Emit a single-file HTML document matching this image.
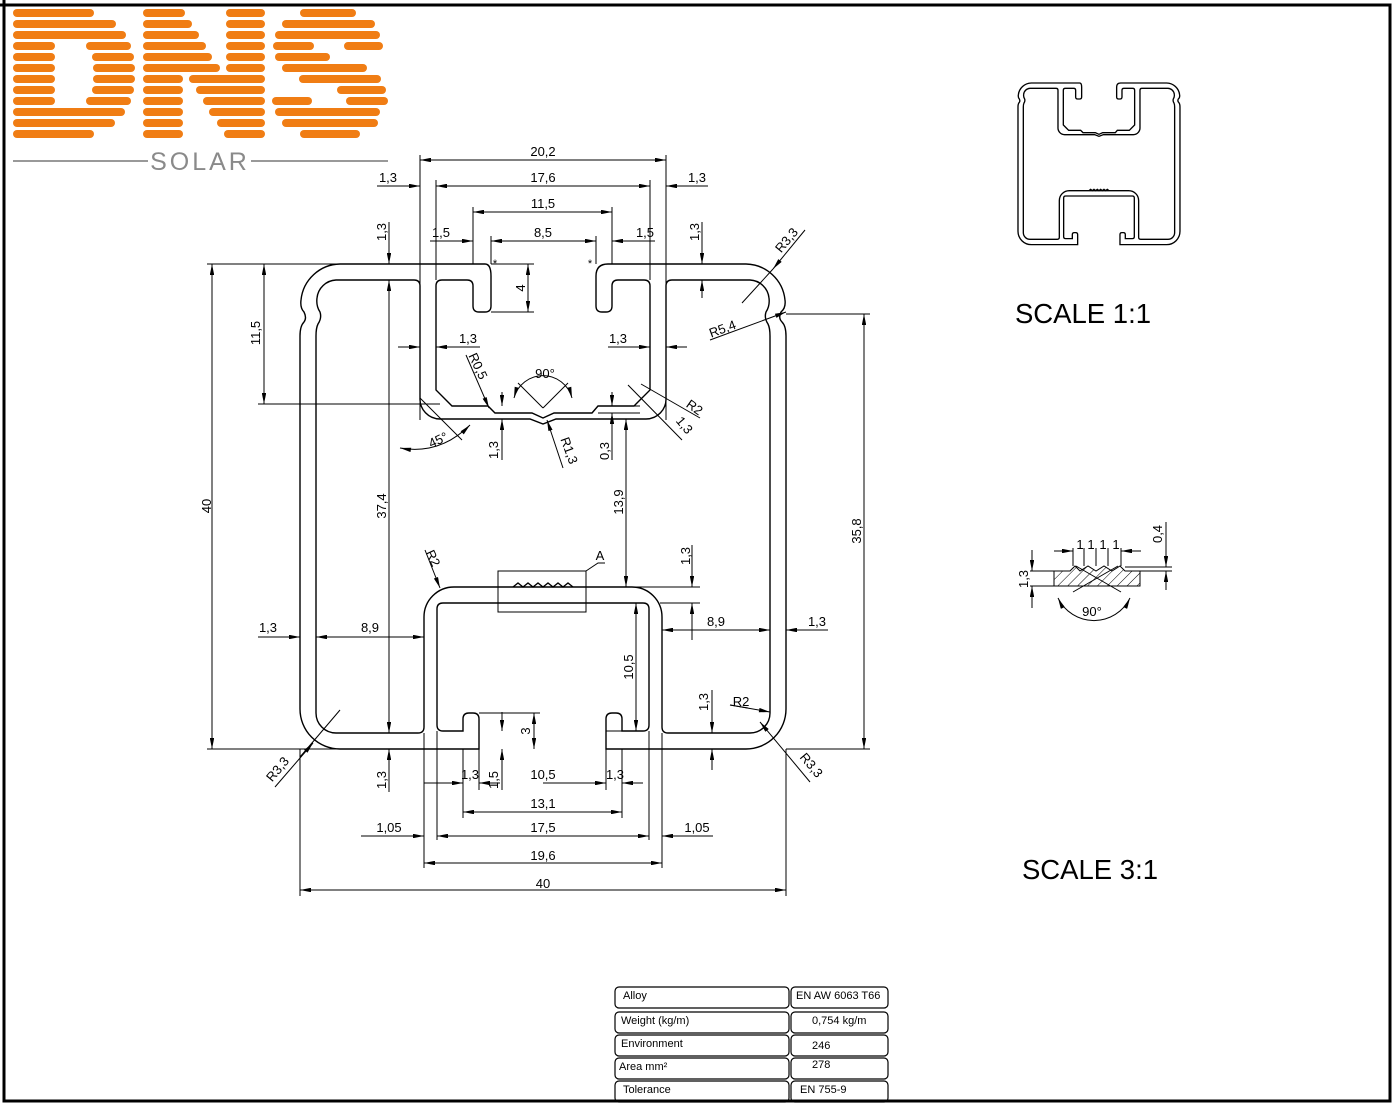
<!DOCTYPE html>
<html><head><meta charset="utf-8"><style>
html,body{margin:0;padding:0;background:#fff;}
svg{display:block;font-family:"Liberation Sans",sans-serif;}
.d{stroke:#000;stroke-width:1;fill:none;}
.p{stroke:#000;stroke-width:1.4;fill:none;}
.t{font-size:13px;fill:#000;text-anchor:middle;}
.o{stroke:#f07d14;stroke-width:8;stroke-linecap:round;}
</style></head><body>
<svg width="1394" height="1103" viewBox="0 0 1394 1103">
<defs>
<marker id="a" viewBox="0 0 10 4" refX="10" refY="2" markerWidth="12" markerHeight="4.4" markerUnits="userSpaceOnUse" orient="auto-start-reverse"><path d="M0,0 L10,2 L0,4z" fill="#000"/></marker>
<pattern id="h" width="7" height="7" patternUnits="userSpaceOnUse" patternTransform="rotate(45)"><line x1="0" y1="0" x2="0" y2="7" stroke="#000" stroke-width="1"/></pattern>
<g id="prof">
<path d="M491,276 L491,306 Q491,312 485,312 L479,312 Q473,312 473,306 L473,286 Q473,280 467,280 L442,280 Q436,280 436,286 L436,390 L452,406 L488,406 L495,413 L532,413 L543,418 L554,413 L592,413 L598,406 L634,406 L650,390 L650,286 Q650,280 644,280 L618,280 Q612,280 612,286 L612,306 Q612,312 606,312 L602,312 Q596,312 596,306 L596,276 Q596,264 608,264 L746,264 A40,40 0 0 1 785,300 Q786,308 781,312 Q778,318 782,322 Q786,326 786,336 L786,709 A40,40 0 0 1 746,749 L606,749 L606,719 Q606,713 612,713 L616,713 Q622,713 622,719 L622,731 L643,731 Q649,731 649,725 L649,609 Q649,603 643,603 L443,603 Q437,603 437,609 L437,725 Q437,731 443,731 L463,731 L463,719 Q463,713 469,713 L473,713 Q479,713 479,719 L479,749 L340,749 A40,40 0 0 1 300,709 L300,336 Q300,326 304,322 Q307,318 304,312 Q300,308 301,300 A40,40 0 0 1 340,264 L485,264 Q491,264 491,276 Z"/>
<path d="M336,280 L414,280 Q420,280 420,286 L420,398 A20,20 0 0 0 440,419 L530,419 L543,424 L556,419 L646,419 A20,20 0 0 0 666,398 L666,286 Q666,280 672,280 L750,280 A20,20 0 0 1 769,298 Q770,306 766,312 Q764,318 768,324 Q770,328 770,336 L770,713 A20,20 0 0 1 750,733 L668,733 Q662,733 662,727 L662,617 A30,30 0 0 0 632,587 L454,587 A30,30 0 0 0 424,617 L424,727 Q424,733 418,733 L336,733 A20,20 0 0 1 316,713 L316,336 Q316,328 318,324 Q322,318 320,312 Q316,306 317,298 A20,20 0 0 1 336,280 Z"/>
<path d="M513,587 l5,-4 5,4 5,-4 5,4 5,-4 5,4 5,-4 5,4 5,-4 5,4 5,-4 5,4"/>
</g>
</defs>

<rect x="4" y="5" width="1386" height="1096" fill="none" stroke="#000" stroke-width="3"/>

<rect x="0" y="0" width="400" height="142" fill="#fff"/>
<line x1="4" y1="0" x2="4" y2="142" stroke="#000" stroke-width="3"/>
<line x1="0" y1="5" x2="400" y2="5" stroke="#000" stroke-width="3"/>
<g class="o">
<line x1="17" y1="13" x2="90" y2="13"/><line x1="17" y1="24" x2="112" y2="24"/><line x1="17" y1="35" x2="122" y2="35"/>
<line x1="17" y1="46" x2="51" y2="46"/><line x1="90" y1="46" x2="127" y2="46"/>
<line x1="17" y1="57" x2="51" y2="57"/><line x1="96" y1="57" x2="130" y2="57"/>
<line x1="17" y1="68" x2="51" y2="68"/><line x1="97" y1="68" x2="131" y2="68"/>
<line x1="17" y1="79" x2="51" y2="79"/><line x1="97" y1="79" x2="131" y2="79"/>
<line x1="17" y1="90" x2="51" y2="90"/><line x1="96" y1="90" x2="130" y2="90"/>
<line x1="17" y1="101" x2="51" y2="101"/><line x1="90" y1="101" x2="127" y2="101"/>
<line x1="17" y1="112" x2="121" y2="112"/><line x1="17" y1="123" x2="111" y2="123"/><line x1="17" y1="134" x2="90" y2="134"/>
<line x1="147" y1="13" x2="181" y2="13"/><line x1="147" y1="24" x2="188" y2="24"/><line x1="147" y1="35" x2="195" y2="35"/>
<line x1="147" y1="46" x2="202" y2="46"/><line x1="147" y1="57" x2="208" y2="57"/><line x1="147" y1="68" x2="216" y2="68"/>
<line x1="147" y1="79" x2="179" y2="79"/><line x1="193" y1="79" x2="261" y2="79"/>
<line x1="147" y1="90" x2="179" y2="90"/><line x1="200" y1="90" x2="261" y2="90"/>
<line x1="147" y1="101" x2="179" y2="101"/><line x1="207" y1="101" x2="261" y2="101"/>
<line x1="147" y1="112" x2="179" y2="112"/><line x1="213" y1="112" x2="261" y2="112"/>
<line x1="147" y1="123" x2="179" y2="123"/><line x1="221" y1="123" x2="261" y2="123"/>
<line x1="147" y1="134" x2="179" y2="134"/><line x1="228" y1="134" x2="261" y2="134"/>
<line x1="230" y1="13" x2="261" y2="13"/><line x1="230" y1="24" x2="261" y2="24"/><line x1="230" y1="35" x2="261" y2="35"/>
<line x1="230" y1="46" x2="261" y2="46"/><line x1="230" y1="57" x2="261" y2="57"/><line x1="230" y1="68" x2="261" y2="68"/>
<line x1="304" y1="13" x2="352" y2="13"/><line x1="286" y1="24" x2="371" y2="24"/><line x1="279" y1="35" x2="376" y2="35"/>
<line x1="277" y1="46" x2="310" y2="46"/><line x1="348" y1="46" x2="379" y2="46"/>
<line x1="279" y1="57" x2="326" y2="57"/><line x1="286" y1="68" x2="363" y2="68"/><line x1="303" y1="79" x2="377" y2="79"/>
<line x1="341" y1="90" x2="382" y2="90"/><line x1="276" y1="101" x2="308" y2="101"/><line x1="350" y1="101" x2="384" y2="101"/>
<line x1="279" y1="112" x2="376" y2="112"/><line x1="286" y1="123" x2="374" y2="123"/><line x1="304" y1="134" x2="356" y2="134"/>
</g>
<line x1="13" y1="161" x2="148" y2="161" stroke="#999" stroke-width="2"/>
<line x1="251" y1="161" x2="388" y2="161" stroke="#999" stroke-width="2"/>
<text x="200" y="170" font-size="25" fill="#8a8a8a" text-anchor="middle" letter-spacing="3">SOLAR</text>

<use href="#prof" class="p"/>
<rect x="498" y="571" width="88" height="41" class="d"/>
<path class="d" d="M586,571 L598,563 L605,563"/>
<text class="t" x="600" y="560">A</text>

<g class="d">
<line x1="420" y1="155" x2="420" y2="420"/><line x1="666" y1="155" x2="666" y2="420"/>
<line x1="436" y1="180" x2="436" y2="280"/><line x1="650" y1="180" x2="650" y2="280"/>
<line x1="473" y1="207" x2="473" y2="264"/><line x1="612" y1="207" x2="612" y2="264"/>
<line x1="491" y1="236" x2="491" y2="264"/><line x1="596" y1="236" x2="596" y2="264"/>
<line x1="207" y1="264" x2="340" y2="264"/><line x1="207" y1="749" x2="340" y2="749"/>
<line x1="258" y1="404" x2="440" y2="404"/>
<line x1="491" y1="264" x2="534" y2="264"/><line x1="491" y1="312" x2="534" y2="312"/>
<line x1="786" y1="314" x2="870" y2="314"/><line x1="786" y1="749" x2="870" y2="749"/>
<line x1="586" y1="587" x2="700" y2="587"/><line x1="660" y1="603" x2="700" y2="603"/>
<line x1="479" y1="713" x2="540" y2="713"/><line x1="606" y1="731" x2="640" y2="731"/>
<line x1="300" y1="749" x2="300" y2="896"/><line x1="786" y1="749" x2="786" y2="896"/>
<line x1="424" y1="733" x2="424" y2="868"/><line x1="662" y1="733" x2="662" y2="868"/>
<line x1="437" y1="731" x2="437" y2="840"/><line x1="649" y1="731" x2="649" y2="840"/>
<line x1="463" y1="749" x2="463" y2="818"/><line x1="622" y1="749" x2="622" y2="818"/>
<line x1="479" y1="749" x2="479" y2="790"/><line x1="606" y1="749" x2="606" y2="790"/>
<line x1="598" y1="406" x2="640" y2="406"/><line x1="598" y1="413" x2="640" y2="413"/>
</g>

<g class="d" marker-end="url(#a)">
<line x1="543" y1="160" x2="420" y2="160"/><line x1="543" y1="160" x2="666" y2="160"/>
<line x1="543" y1="186" x2="436" y2="186"/><line x1="543" y1="186" x2="650" y2="186"/>
<line x1="377" y1="186" x2="420" y2="186"/><line x1="708" y1="186" x2="666" y2="186"/>
<line x1="543" y1="212" x2="473" y2="212"/><line x1="543" y1="212" x2="612" y2="212"/>
<line x1="543" y1="241" x2="491" y2="241"/><line x1="543" y1="241" x2="596" y2="241"/>
<line x1="430" y1="241" x2="473" y2="241"/><line x1="655" y1="241" x2="612" y2="241"/>
<line x1="389" y1="222" x2="389" y2="264"/><line x1="389" y1="500" x2="389" y2="280"/><line x1="389" y1="500" x2="389" y2="733"/>
<line x1="389" y1="792" x2="389" y2="749"/>
<line x1="702" y1="222" x2="702" y2="264"/><line x1="702" y1="298" x2="702" y2="280"/>
<line x1="528" y1="288" x2="528" y2="264"/><line x1="528" y1="288" x2="528" y2="312"/>
<line x1="264" y1="334" x2="264" y2="264"/><line x1="264" y1="334" x2="264" y2="404"/>
<line x1="212" y1="506" x2="212" y2="264"/><line x1="212" y1="506" x2="212" y2="749"/>
<line x1="398" y1="347" x2="420" y2="347"/><line x1="480" y1="347" x2="436" y2="347"/>
<line x1="608" y1="347" x2="650" y2="347"/><line x1="687" y1="347" x2="666" y2="347"/>
<line x1="466" y1="355" x2="489" y2="408"/>
<line x1="563" y1="468" x2="547" y2="420"/>
<line x1="502" y1="392" x2="502" y2="406"/><line x1="502" y1="460" x2="502" y2="419"/>
<line x1="612" y1="392" x2="612" y2="406"/><line x1="612" y1="460" x2="612" y2="413"/>
<line x1="626" y1="500" x2="626" y2="419"/><line x1="626" y1="500" x2="626" y2="587"/>
<line x1="805" y1="230" x2="773" y2="269"/>
<line x1="710" y1="340" x2="786" y2="312"/>
<line x1="864" y1="530" x2="864" y2="314"/><line x1="864" y1="530" x2="864" y2="749"/>
<line x1="425" y1="550" x2="440" y2="588"/>
<line x1="692" y1="545" x2="692" y2="587"/><line x1="692" y1="640" x2="692" y2="603"/>
<line x1="370" y1="637" x2="316" y2="637"/><line x1="370" y1="637" x2="424" y2="637"/>
<line x1="258" y1="637" x2="300" y2="637"/>
<line x1="716" y1="630" x2="662" y2="630"/><line x1="716" y1="630" x2="770" y2="630"/>
<line x1="828" y1="630" x2="786" y2="630"/>
<line x1="636" y1="667" x2="636" y2="603"/><line x1="636" y1="667" x2="636" y2="731"/>
<line x1="534" y1="731" x2="534" y2="713"/><line x1="534" y1="731" x2="534" y2="749"/>
<line x1="502" y1="712" x2="502" y2="731"/><line x1="502" y1="790" x2="502" y2="749"/>
<line x1="712" y1="690" x2="712" y2="733"/><line x1="712" y1="770" x2="712" y2="749"/>
<line x1="730" y1="705" x2="770" y2="712"/>
<line x1="810" y1="782" x2="760" y2="722"/>
<line x1="275" y1="787" x2="313" y2="743"/>
<line x1="424" y1="783" x2="463" y2="783"/><line x1="500" y1="783" x2="479" y2="783"/>
<line x1="543" y1="783" x2="606" y2="783"/><line x1="643" y1="783" x2="622" y2="783"/>
<line x1="543" y1="812" x2="463" y2="812"/><line x1="543" y1="812" x2="622" y2="812"/>
<line x1="543" y1="836" x2="437" y2="836"/><line x1="543" y1="836" x2="649" y2="836"/>
<line x1="361" y1="836" x2="424" y2="836"/><line x1="713" y1="836" x2="662" y2="836"/>
<line x1="543" y1="863" x2="424" y2="863"/><line x1="543" y1="863" x2="662" y2="863"/>
<line x1="543" y1="890" x2="300" y2="890"/><line x1="543" y1="890" x2="786" y2="890"/>
</g>
<g class="d">
<line x1="340" y1="710" x2="300" y2="757"/>
<line x1="742" y1="303" x2="773" y2="269"/>
<path d="M514,398 A30,30 0 0 1 572,398" marker-start="url(#a)" marker-end="url(#a)"/>
<line x1="543" y1="408" x2="518" y2="383"/><line x1="543" y1="408" x2="568" y2="383"/>
<line x1="420" y1="398" x2="462" y2="440"/>
<path d="M400,448 Q440,455 470,425" marker-start="url(#a)" marker-end="url(#a)"/>
<line x1="628" y1="385" x2="682" y2="440"/><line x1="641" y1="384" x2="700" y2="418"/>
<line x1="730" y1="705" x2="748" y2="708"/>
</g>
<g class="t">
<text x="543" y="156">20,2</text><text x="543" y="182">17,6</text>
<text x="388" y="182">1,3</text><text x="697" y="182">1,3</text>
<text x="543" y="208">11,5</text><text x="543" y="237">8,5</text>
<text x="441" y="237">1,5</text><text x="645" y="237">1,5</text>
<text x="468" y="343">1,3</text><text x="618" y="343">1,3</text>
<text x="545" y="378">90°</text>
<text x="370" y="632">8,9</text><text x="268" y="632">1,3</text>
<text x="716" y="626">8,9</text><text x="817" y="626">1,3</text>
<text x="470" y="779">1,3</text><text x="543" y="779">10,5</text><text x="615" y="779">1,3</text>
<text x="543" y="808">13,1</text><text x="543" y="832">17,5</text>
<text x="389" y="832">1,05</text><text x="697" y="832">1,05</text>
<text x="543" y="860">19,6</text><text x="543" y="888">40</text>
<text x="741" y="706">R2</text>
<text transform="translate(386,232) rotate(-90)">1,3</text>
<text transform="translate(699,232) rotate(-90)">1,3</text>
<text transform="translate(525,288) rotate(-90)">4</text>
<text transform="translate(260,333) rotate(-90)">11,5</text>
<text transform="translate(211,506) rotate(-90)">40</text>
<text transform="translate(386,506) rotate(-90)">37,4</text>
<text transform="translate(386,780) rotate(-90)">1,3</text>
<text transform="translate(498,450) rotate(-90)">1,3</text>
<text transform="translate(609,451) rotate(-90)">0,3</text>
<text transform="translate(623,502) rotate(-90)">13,9</text>
<text transform="translate(861,531) rotate(-90)">35,8</text>
<text transform="translate(690,556) rotate(-90)">1,3</text>
<text transform="translate(633,667) rotate(-90)">10,5</text>
<text transform="translate(530,731) rotate(-90)">3</text>
<text transform="translate(708,702) rotate(-90)">1,3</text>
<text transform="translate(498,780) rotate(-90)">1,5</text>
<text transform="translate(474,368) rotate(65)">R0,5</text>
<text transform="translate(565,452) rotate(70)">R1,3</text>
<text transform="translate(440,444) rotate(-25)">45°</text>
<text transform="translate(692,411) rotate(35)">R2</text>
<text transform="translate(681,428) rotate(50)">1,3</text>
<text transform="translate(790,243) rotate(-50)">R3,3</text>
<text transform="translate(724,333) rotate(-20)">R5,4</text>
<text transform="translate(429,560) rotate(65)">R2</text>
<text transform="translate(281,772) rotate(-50)">R3,3</text>
<text transform="translate(808,768) rotate(50)">R3,3</text>
</g>
<text x="495" y="267" font-size="11" text-anchor="middle">*</text>
<text x="590" y="267" font-size="11" text-anchor="middle">*</text>

<g transform="translate(918,-5) scale(0.3333)"><use href="#prof" stroke="#000" stroke-width="4" fill="none"/></g>
<text x="1083" y="323" font-size="27.5" text-anchor="middle">SCALE 1:1</text>

<path d="M1054,571 L1070,571 L1075,566 L1080,571 L1088,566 L1096,571 L1104,566 L1112,571 L1120,566 L1125,571 L1140,571 L1140,586 L1054,586 Z" fill="url(#h)" stroke="#000" stroke-width="1"/>
<g class="d">
<line x1="1030" y1="571" x2="1054" y2="571"/><line x1="1030" y1="586" x2="1054" y2="586"/>
<line x1="1125" y1="567" x2="1172" y2="567"/><line x1="1140" y1="571" x2="1172" y2="571"/>
<line x1="1073" y1="548" x2="1073" y2="566"/><line x1="1084" y1="548" x2="1084" y2="566"/><line x1="1096" y1="548" x2="1096" y2="566"/><line x1="1108" y1="548" x2="1108" y2="566"/><line x1="1121" y1="548" x2="1121" y2="566"/>
<line x1="1073" y1="592" x2="1118" y2="566"/><line x1="1121" y1="592" x2="1076" y2="566"/>
<path d="M1058,598 A40,40 0 0 0 1130,598" marker-start="url(#a)" marker-end="url(#a)"/>
</g>
<g class="d" marker-end="url(#a)">
<line x1="1054" y1="551" x2="1073" y2="551"/><line x1="1141" y1="551" x2="1121" y2="551"/>
<line x1="1032" y1="550" x2="1032" y2="571"/><line x1="1032" y1="608" x2="1032" y2="586"/>
<line x1="1166" y1="522" x2="1166" y2="567"/><line x1="1166" y1="590" x2="1166" y2="571"/>
</g>
<g class="t">
<text x="1080" y="549">1</text><text x="1091" y="549">1</text><text x="1103" y="549">1</text><text x="1116" y="549">1</text>
<text x="1092" y="616">90°</text>
<text transform="translate(1028,579) rotate(-90)">1,3</text>
<text transform="translate(1162,534) rotate(-90)">0,4</text>
</g>
<text x="1090" y="879" font-size="27.5" text-anchor="middle">SCALE 3:1</text>

<g fill="none" stroke="#000" stroke-width="1.2">
<rect x="615" y="987" width="174" height="21" rx="4"/><rect x="791" y="987" width="97" height="21" rx="4"/>
<rect x="615" y="1012" width="174" height="21" rx="4"/><rect x="791" y="1012" width="97" height="21" rx="4"/>
<rect x="615" y="1035" width="174" height="21" rx="4"/><rect x="791" y="1035" width="97" height="21" rx="4"/>
<rect x="615" y="1058" width="174" height="21" rx="4"/><rect x="791" y="1058" width="97" height="21" rx="4"/>
<rect x="615" y="1081" width="174" height="21" rx="4"/><rect x="791" y="1081" width="97" height="21" rx="4"/>
</g>
<g font-size="11" fill="#000">
<text x="623" y="999">Alloy</text><text x="796" y="999">EN AW 6063 T66</text>
<text x="621" y="1024">Weight (kg/m)</text><text x="812" y="1024">0,754 kg/m</text>
<text x="621" y="1047">Environment</text><text x="812" y="1049">246</text>
<text x="619" y="1070">Area mm²</text><text x="812" y="1068">278</text>
<text x="623" y="1093">Tolerance</text><text x="800" y="1093">EN 755-9</text>
</g>
<line x1="376" y1="1101" x2="1390" y2="1101" stroke="#000" stroke-width="3"/>
</svg>
</body></html>
